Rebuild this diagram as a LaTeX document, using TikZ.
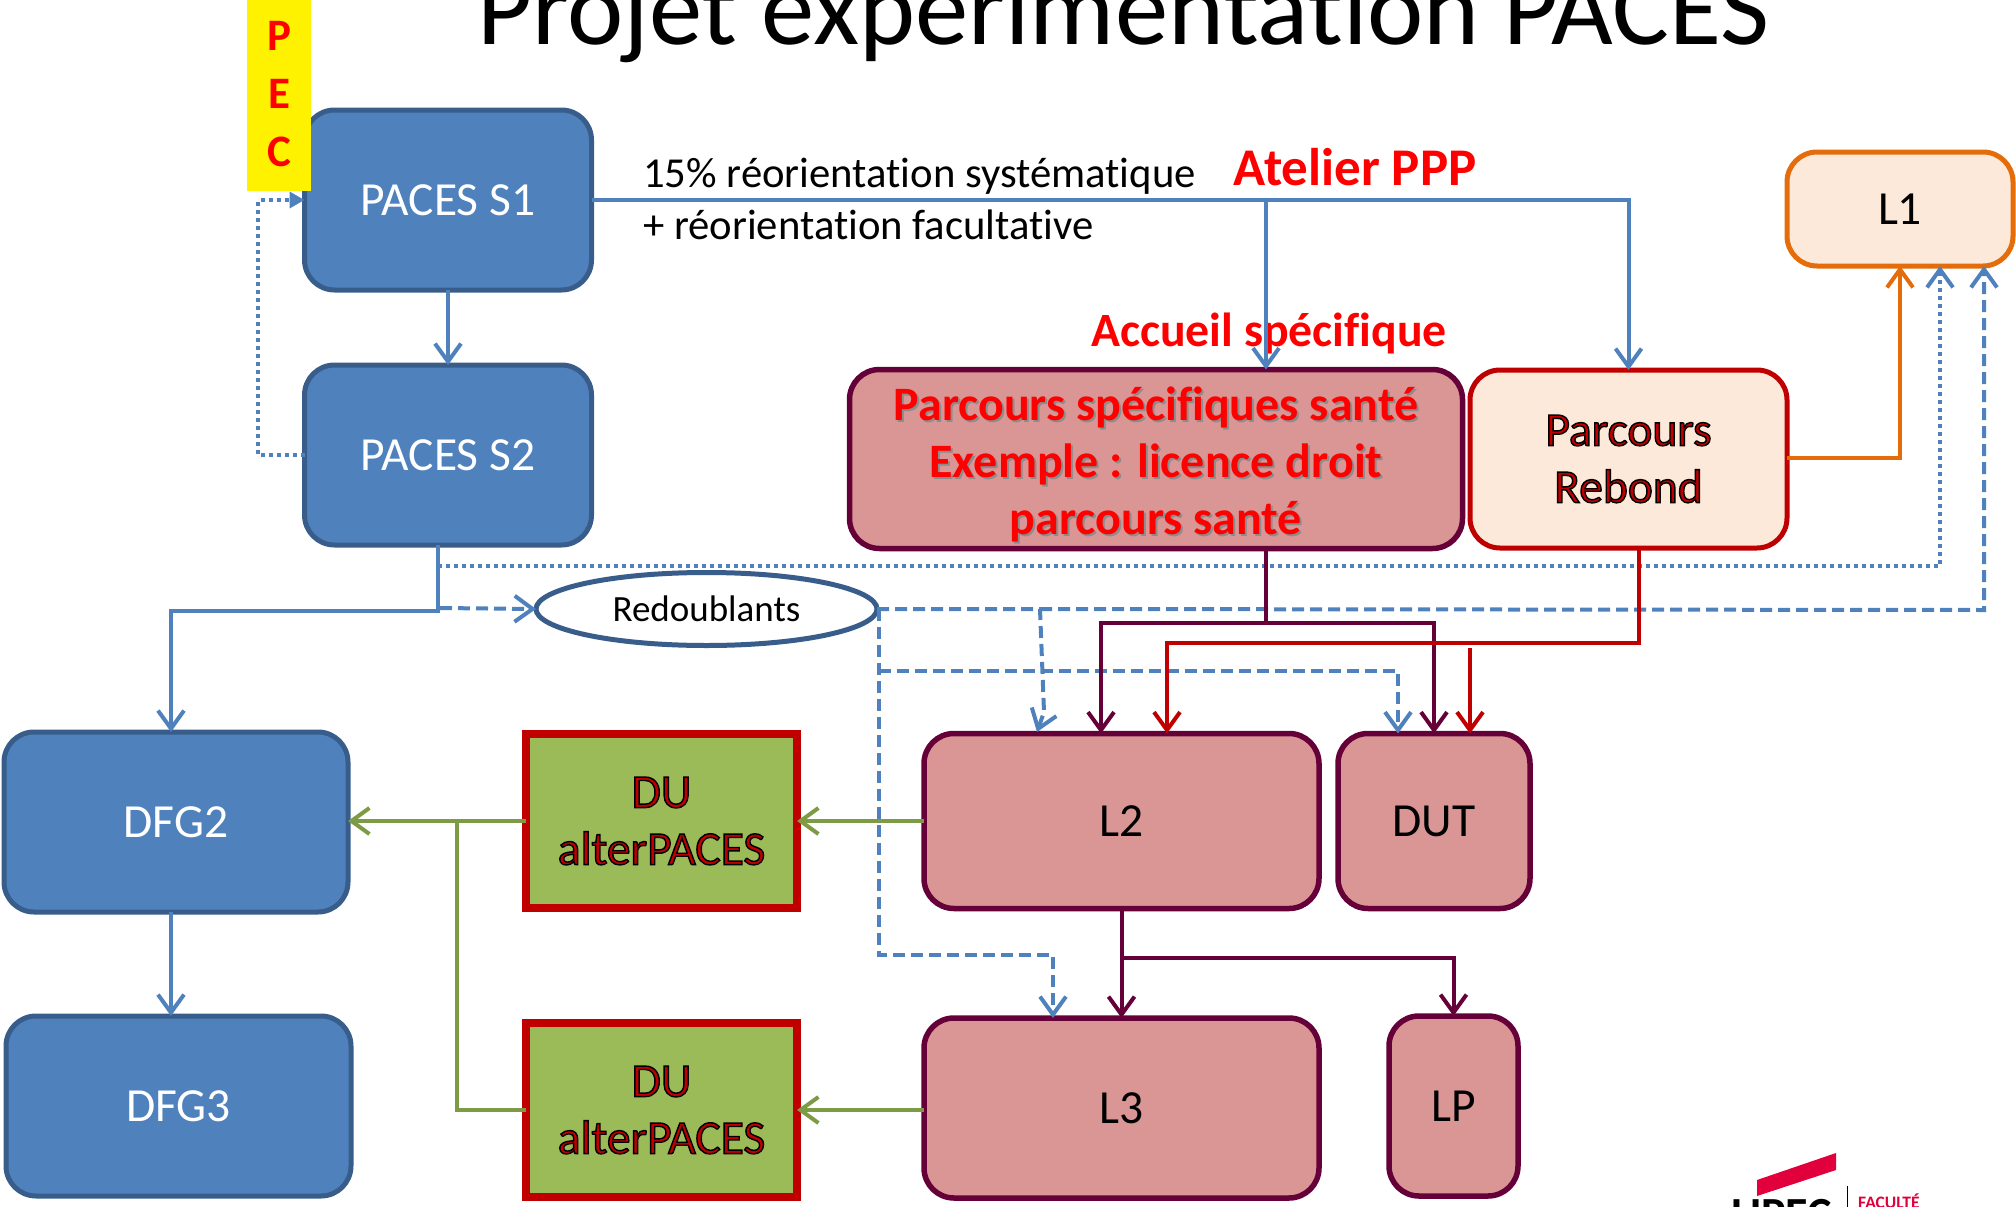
\documentclass[tikz,border=0pt]{standalone}
\usepackage{fontspec}
\setmainfont[RawFeature={-liga}]{Carlito}
\newfontfamily\outlfont[FakeBold=3,RawFeature={-liga}]{Carlito}
\usetikzlibrary{arrows.meta,shapes.geometric}
\definecolor{bluefill}{HTML}{4F81BD}
\definecolor{blueline}{HTML}{385D8A}
\definecolor{pinkfill}{HTML}{D99694}
\definecolor{purp}{HTML}{660038}
\definecolor{peach}{HTML}{FDE9D9}
\definecolor{orng}{HTML}{E46C0A}
\definecolor{dred}{HTML}{C00000}
\definecolor{grn}{HTML}{9BBB59}
\definecolor{grnline}{HTML}{7D9A44}
\definecolor{crimson}{HTML}{E2003C}
\newcommand{\outl}[1]{{\outlfont\color{dred}\special{pdf:code 0 0 0 RG}#1}}
\newcommand{\shad}[1]{\makebox[0pt][l]{\raisebox{-2pt}{\hspace{2pt}\color{black!45}#1}}#1}
\tikzset{
  box/.style={rounded corners=30pt,line width=5pt,minimum width=#1,inner sep=0pt,outer sep=0pt,align=center,
     font={\fontsize{47.5}{57}\selectfont}},
  bluebox/.style={box=287pt,draw=blueline,fill=bluefill,text=white,minimum height=180pt},
  pinkbox/.style={box=#1,draw=purp,fill=pinkfill,text=black,line width=5.5pt},
  dubox/.style={draw=dred,fill=grn,line width=8pt,minimum width=271pt,minimum height=174pt,inner sep=0pt,outer sep=0pt,align=center,
     font={\fontsize{47.5}{57}\selectfont}},
  link/.style={line width=4pt,-{Straight Barb[length=18pt,width=26pt,line width=4pt]}},
  plain/.style={line width=4pt},
  bl/.style={draw=bluefill},
  dashb/.style={draw=bluefill,dash pattern=on 12pt off 6pt},
  dotb/.style={draw=bluefill,dash pattern=on 4pt off 4pt},
  labelred/.style={text=red,font={\fontsize{#1}{#1}\selectfont\bfseries},inner sep=0pt},
  bodytext/.style={inner sep=0pt,anchor=west,font={\fontsize{42.7}{42.7}\selectfont}}
}
\begin{document}
\begin{tikzpicture}[x=1pt,y=-1pt]
\clip (0,0) rectangle (2016,1207);
% texts
\node[inner sep=0pt,anchor=base,font={\fontsize{106.6}{106.6}\selectfont}] (title) at (1123,45) {Projet expérimentation PACES};
\node[bodytext] (t1) at (643,176) {15\% réorientation systématique};
\node[bodytext] (t2) at (643,225) {+ réorientation facultative};
\node[labelred=53] (atelier) at (1355,167) {Atelier PPP};
\node[labelred=47.8] (accueil) at (1269,333) {Accueil spécifique};
% nodes
\node[bluebox] (s1) at (448,200) {PACES S1};
\node[bluebox] (s2) at (448,455) {PACES S2};
\node[rectangle,fill=yellow,text=red,minimum width=64pt,minimum height=194pt,inner sep=0pt,align=center,font={\fontsize{45}{58}\selectfont\bfseries}] (pec) at (279,94) {P\\E\\C};
\node[box=226pt,draw=orng,fill=peach,minimum height=114pt,line width=5pt] (l1) at (1900,209) {L1};
\node[pinkbox=613pt,minimum height=179pt] (spec) at (1156,459) {};
\node[text=red,align=center,inner sep=0pt,font={\fontsize{48}{57}\selectfont\bfseries}] (spectext) at (1156,465) {\shad{Parcours spécifiques santé}\\\shad{Exemple : licence droit}\\\shad{parcours santé}};
\node[box=317pt,draw=dred,fill=peach,minimum height=178pt] (reb) at (1628.5,459) {\outl{Parcours}\\\outl{Rebond}};
\node[ellipse,draw=blueline,fill=white,line width=5pt,minimum width=341pt,minimum height=73pt,inner sep=0pt,outer sep=0pt,font={\fontsize{37}{37}\selectfont}] (red) at (706.5,609) {Redoublants};
\node[bluebox,minimum width=344pt] (dfg2) at (176,822) {DFG2};
\node[bluebox,minimum width=345pt] (dfg3) at (178.5,1106) {DFG3};
\node[dubox] (du1) at (661.5,821) {\outl{DU}\\\outl{alterPACES}};
\node[dubox] (du2) at (661.5,1110) {\outl{DU}\\\outl{alterPACES}};
\node[pinkbox=395pt,minimum height=175pt] (l2) at (1121.5,821) {L2};
\node[pinkbox=192pt,minimum height=175pt] (dut) at (1434,821) {DUT};
\node[pinkbox=395pt,minimum height=180pt] (l3) at (1121.5,1108) {L3};
\node[pinkbox=129pt,minimum height=180pt] (lp) at (1453.5,1106) {LP};
% junctions
\coordinate (j1) at (1266,200);
\coordinate (j2) at (1266,623);
\coordinate (j3) at (438,566);
\coordinate (j4) at (438,611);
\coordinate (j5) at (258,455);
\coordinate (j6) at (1940,566);
\coordinate (j7) at (879,609);
\coordinate (j8) at (1040,609);
\coordinate (j9) at (1984,610);
\coordinate (j10) at (1398,671);
\coordinate (j11) at (879,671);
\coordinate (j12) at (1053,955);
\coordinate (j13) at (1639,643);
\coordinate (j14) at (1167,643);
\coordinate (j15) at (1470,648);
\coordinate (j16) at (1900,458);
\coordinate (j17) at (457,820);
\coordinate (j18) at (1121.5,958);
\coordinate (j19) at (171,611);
\coordinate (j20) at (1044,712);
\coordinate (j21) at (1037,732);
\coordinate (j22) at (1101,623);
\coordinate (j23) at (440,608);
% blue solid
\draw[link,bl] (s1.east) -| (reb.north);
\draw[link,bl] (j1) -- (j1 |- spec.north);
\draw[link,bl] (s1.south) -- (s2.north);
\draw[link,bl] (j3 |- s2.south) -- (j4) -- (j19) -- (j19 |- dfg2.north);
\draw[link,bl] (j19 |- dfg2.south) -- (j19 |- dfg3.north);
% blue dotted
\draw[line width=4pt,dotb,-{Triangle[length=15pt,width=16pt]}] (s2.west) -- (j5) -- (j5 |- s1.west) -- (s1.west);
\draw[link,dotb] (j3) -- (j6) -- (j6 |- l1.south);
% blue dashed
\draw[link,dashb] (j23) -- (red.west);
\draw[link,dashb] (red.east) -- (j8) -- (j20) -- (j21);
\draw[link,dashb] (j8) -- (j9) -- (j9 |- l1.south);
\draw[link,dashb] (j7) -- (j7 |- j12) -- (j12) -- (j12 |- l3.north);
\draw[link,dashb] (j11) -- (j10) -- (j10 |- dut.north);
% purple
\draw[plain,draw=purp] (j2 |- spec.south) -- (j2);
\draw[link,draw=purp] (j2) -- (j22) -- (j22 |- l2.north);
\draw[link,draw=purp] (j2) -| (dut.north);
% red
\draw[link,draw=dred] (j13 |- reb.south) -- (j13) -- (j14) -- (j14 |- l2.north);
\draw[link,draw=dred] (j15) -- (j15 |- dut.north);
% orange
\draw[link,draw=orng] (j16 -| reb.east) -- (j16) -- (l1.south);
% green
\draw[link,draw=grnline] (l2.west) -- (du1.east);
\draw[link,draw=grnline] (du1.west) -- (dfg2.east |- du1.west);
\draw[link,draw=grnline] (l3.west |- du2.east) -- (du2.east);
\draw[plain,draw=grnline] (du2.west) -- (j17 |- du2.west) -- (j17);
% purple lower
\draw[link,draw=purp] (l2.south) -- (l3.north);
\draw[link,draw=purp] (j18) -| (lp.north);
% logo
\fill[crimson] (1757,1180) -- (1836,1153) -- (1836,1170) -- (1757,1196) -- cycle;
\draw[line width=0.7pt] (1847,1186) -- (1847,1207);
\node[inner sep=0pt,anchor=base west,font={\fontsize{46}{46}\selectfont\bfseries}] (upec) at (1731,1229) {UPEC};
\node[inner sep=0pt,anchor=base west,text=crimson,font={\fontsize{17.5}{17.5}\selectfont\bfseries}] (fac) at (1858,1208) {FACULTÉ};
\end{tikzpicture}
\end{document}
